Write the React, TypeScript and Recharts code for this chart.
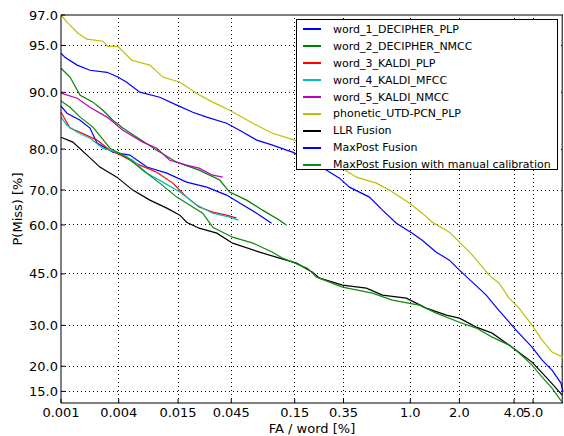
import { LineChart, Line, XAxis, YAxis, ReferenceLine } from 'recharts';

// DET curves: [FA per word %, P(Miss) %]
const word1DecipherPlp: [number, number][] = [
  [0.001, 87.98], [0.00116, 86.86], [0.0016, 85.66], [0.00203, 84.24], [0.0024, 81.27], [0.00349, 79.33],
  [0.00516, 78.67], [0.00758, 75.87], [0.01177, 74.37], [0.018, 72.09], [0.0274, 70.77], [0.041, 68.62],
  [0.0531, 66.38], [0.0739, 63.49], [0.098, 60.53],
];
const word2DecipherNmcc: [number, number][] = [
  [0.001, 92.9], [0.00125, 91.92], [0.0016, 89.6], [0.00218, 88.6], [0.00276, 87.34], [0.00349, 85.66],
  [0.0044, 84.24], [0.00605, 82.48], [0.00945, 79.76], [0.0146, 77.04], [0.0234, 75.12], [0.0357, 72.62],
  [0.0436, 69.44], [0.0609, 67.22], [0.0827, 64.37], [0.1137, 61.43], [0.1294, 59.93],
];
const word3KaldiPlp: [number, number][] = [
  [0.001, 87.02], [0.00125, 84.24], [0.0016, 83.46], [0.0024, 81.89], [0.00326, 79.76], [0.0044, 78.44],
  [0.00647, 76.33], [0.00945, 74.62], [0.0134, 71.83], [0.018, 68.06], [0.0234, 65.25], [0.031, 63.78],
  [0.041, 62.9], [0.05, 62.02],
];
const word4KaldiMfcc: [number, number][] = [
  [0.001, 86.2], [0.00116, 84.77], [0.00149, 83.46], [0.00203, 82.28], [0.00276, 80.19], [0.0041, 79.11],
  [0.00552, 77.5], [0.00758, 74.37], [0.0108, 72.09], [0.0156, 69.44], [0.0223, 65.82], [0.031, 63.49],
  [0.0436, 62.32], [0.052, 61.43],
];
const word5KaldiNmcc: [number, number][] = [
  [0.001, 89.88], [0.00149, 89.17], [0.00203, 87.82], [0.00304, 86.2], [0.0044, 83.85], [0.00692, 81.48],
  [0.00945, 80.19], [0.01255, 77.5], [0.018, 76.33], [0.0234, 75.62], [0.031, 73.87], [0.0379, 73.37],
];
const phoneticUtd: [number, number][] = [
  [0.001, 97.0], [0.00116, 96.6], [0.00152, 95.9], [0.00189, 95.48], [0.00276, 95.33], [0.00311, 94.93],
  [0.00392, 94.93], [0.0054, 93.7], [0.0081, 93.22], [0.0108, 91.92], [0.0156, 91.3], [0.0237, 89.6],
  [0.031, 88.6], [0.0436, 87.34], [0.0687, 85.13], [0.0999, 83.26], [0.1496, 81.89], [0.26, 78.0],
  [0.433, 73.37], [0.596, 71.83], [0.729, 69.97], [0.985, 66.38], [1.19, 63.49], [1.376, 60.83],
  [1.746, 57.84], [2.0, 54.78], [2.376, 50.77], [2.946, 44.61], [3.335, 42.16], [3.77, 37.69],
  [4.25, 34.78], [4.94, 30.05], [5.54, 26.15], [6.18, 23.22], [6.96, 22.05],
];
const llrFusion: [number, number][] = [
  [0.001, 82.48], [0.00134, 81.48], [0.00189, 78.67], [0.00257, 75.87], [0.00383, 73.37], [0.00552, 69.97],
  [0.0081, 67.22], [0.01177, 64.95], [0.0156, 62.9], [0.018, 60.83], [0.0234, 59.04], [0.0337, 57.53],
  [0.0462, 54.47], [0.0781, 51.7], [0.1137, 49.85], [0.155, 48.3], [0.206, 45.53], [0.233, 43.69],
  [0.344, 41.56], [0.508, 40.66], [0.655, 38.57], [0.942, 37.69], [1.262, 34.78], [1.674, 32.81],
  [2.0, 31.97], [2.5, 29.52], [3.06, 27.93], [3.91, 24.4], [4.94, 20.91], [5.79, 17.74], [6.46, 15.6],
  [6.9, 14.35],
];
const maxPostFusion: [number, number][] = [
  [0.001, 94.35], [0.0011, 93.98], [0.00149, 93.22], [0.00203, 92.68], [0.00304, 92.46], [0.00392, 91.92],
  [0.00481, 91.3], [0.00647, 90.02], [0.0101, 89.31], [0.0146, 88.14], [0.0205, 87.02], [0.0274, 86.2],
  [0.041, 85.13], [0.0531, 83.85], [0.0739, 81.89], [0.1, 80.84], [0.1294, 79.76], [0.1443, 79.33],
  [0.263, 75.12], [0.327, 73.12], [0.386, 70.77], [0.534, 68.06], [0.655, 64.37], [0.812, 60.53],
  [1.03, 57.53], [1.19, 55.39], [1.455, 51.7], [1.746, 49.23], [2.0, 46.14], [2.376, 42.47],
  [2.84, 38.57], [3.25, 34.78], [4.1, 28.73], [4.94, 24.4], [5.54, 21.35], [6.18, 19.19],
  [6.81, 16.56], [6.96, 14.89],
];
const maxPostManual: [number, number][] = [
  [0.001, 88.75], [0.00125, 87.82], [0.0016, 86.2], [0.00218, 84.42], [0.00326, 80.19], [0.00481, 78.2],
  [0.00692, 75.12], [0.0101, 71.83], [0.0146, 68.06], [0.0252, 63.49], [0.031, 59.34], [0.0462, 56.31],
  [0.0687, 54.47], [0.0999, 51.7], [0.1202, 49.85], [0.1443, 48.61], [0.1636, 47.69], [0.188, 46.76],
  [0.221, 44.0], [0.344, 40.96], [0.559, 39.17], [0.763, 37.1], [1.141, 35.65], [1.455, 33.37],
  [2.0, 30.85], [2.5, 29.26], [3.06, 26.9], [3.77, 24.9], [4.25, 22.99], [4.94, 20.26], [5.54, 17.74],
  [6.18, 15.6], [6.9, 13.1],
];

const X_TICKS = [0.001, 0.004, 0.015, 0.045, 0.15, 0.35, 1.0, 2.0, 4.0, 5.0];
const Y_TICKS = [15, 20, 30, 45, 60, 70, 80, 90, 95, 97];
const X_RANGE = [0.001, 6.9];
const Y_RANGE = [13, 97];

const SERIES = [
  { name: 'word_1_DECIPHER_PLP', data: word1DecipherPlp, color: '#0000ff' },
  { name: 'word_2_DECIPHER_NMCC', data: word2DecipherNmcc, color: '#008000' },
  { name: 'word_3_KALDI_PLP', data: word3KaldiPlp, color: '#ff0000' },
  { name: 'word_4_KALDI_MFCC', data: word4KaldiMfcc, color: '#00bfbf' },
  { name: 'word_5_KALDI_NMCC', data: word5KaldiNmcc, color: '#bf00bf' },
  { name: 'phonetic_UTD-PCN_PLP', data: phoneticUtd, color: '#bfbf00' },
  { name: 'LLR Fusion', data: llrFusion, color: '#000000' },
  { name: 'MaxPost Fusion', data: maxPostFusion, color: '#0000ff' },
  { name: 'MaxPost Fusion with manual calibration', data: maxPostManual, color: '#118a11' },
];

// inverse normal CDF (Acklam) -> normal deviate scale used by DET plots
function probit(p: number): number {
  const a = [-39.69683028665376, 220.9460984245205, -275.9285104469687, 138.357751867269, -30.66479806614716, 2.506628277459239];
  const b = [-54.47609879822406, 161.5858368580409, -155.6989798598866, 66.80131188771972, -13.28068155288572];
  const c = [-0.007784894002430293, -0.3223964580411365, -2.400758277161838, -2.549732539343734, 4.374664141464968, 2.938163982698783];
  const d = [0.007784695709041462, 0.3224671290700398, 2.445134137142996, 3.754408661907416];
  const plow = 0.02425;
  if (p < plow) {
    const q = Math.sqrt(-2 * Math.log(p));
    return (((((c[0] * q + c[1]) * q + c[2]) * q + c[3]) * q + c[4]) * q + c[5]) / ((((d[0] * q + d[1]) * q + d[2]) * q + d[3]) * q + 1);
  }
  if (p > 1 - plow) {
    const q = Math.sqrt(-2 * Math.log(1 - p));
    return -(((((c[0] * q + c[1]) * q + c[2]) * q + c[3]) * q + c[4]) * q + c[5]) / ((((d[0] * q + d[1]) * q + d[2]) * q + d[3]) * q + 1);
  }
  const q = p - 0.5;
  const r = q * q;
  return (((((a[0] * r + a[1]) * r + a[2]) * r + a[3]) * r + a[4]) * r + a[5]) * q / (((((b[0] * r + b[1]) * r + b[2]) * r + b[3]) * r + b[4]) * r + 1);
}

const dev = (pct: number) => probit(pct / 100);
const toDet = (pts: [number, number][]) => pts.map(([fa, pm]) => ({ x: dev(fa), y: dev(pm) }));

const xTickPos = X_TICKS.map(dev);
const yTickPos = Y_TICKS.map(dev);
const xDomain = X_RANGE.map(dev);
const yDomain = Y_RANGE.map(dev);

const fmtX = (v: number) => {
  const i = xTickPos.findIndex((t) => Math.abs(t - v) < 1e-6);
  if (i < 0) return '';
  const n = X_TICKS[i];
  return n >= 1 ? n.toFixed(1) : String(n);
};
const fmtY = (v: number) => {
  const i = yTickPos.findIndex((t) => Math.abs(t - v) < 1e-6);
  return i < 0 ? '' : Y_TICKS[i].toFixed(1);
};

const FONT = '"DejaVu Sans", sans-serif';
const tickStyle = { fontSize: 13, fill: '#000', fontFamily: FONT };
const GRID = { stroke: '#000', strokeWidth: 1, strokeDasharray: '1 3', shapeRendering: 'crispEdges' };

function DetLegend() {
  return (
    <div
      style={{
        position: 'absolute', left: 296, top: 19, width: 262, height: 151,
        border: '1px solid #000', background: '#fff', fontFamily: FONT, fontSize: 11,
        paddingTop: 1, boxSizing: 'border-box',
      }}
    >
      {SERIES.map((s) => (
        <div key={s.name} style={{ height: 16.9, display: 'flex', alignItems: 'center', whiteSpace: 'nowrap' }}>
          <div style={{ marginLeft: 6, width: 18, height: 2, background: s.color, flex: 'none' }} />
          <span style={{ marginLeft: 12, color: '#000' }}>{s.name}</span>
        </div>
      ))}
    </div>
  );
}

export default function App() {
  return (
    <div style={{ position: 'absolute', left: 0, top: 0, width: 564, height: 436, background: '#fff' }}>
      <LineChart width={564} height={436} margin={{ top: 15, right: 1, bottom: 0, left: 0 }}>
        <XAxis
          type="number" dataKey="x" domain={xDomain} ticks={xTickPos} interval={0}
          tickFormatter={fmtX} tick={tickStyle} tickSize={-4} tickMargin={9} height={33}
          stroke="#000" tickLine={{ stroke: '#000' }}
          label={{ value: 'FA / word [%]', position: 'insideBottom', offset: 3, style: { fontSize: 13, fill: '#000', fontFamily: FONT } }}
        />
        <YAxis
          type="number" dataKey="y" domain={yDomain} ticks={yTickPos} interval={0}
          tickFormatter={fmtY} tick={tickStyle} tickSize={-4} tickMargin={7} width={61}
          stroke="#000" tickLine={{ stroke: '#000' }}
          label={{ value: 'P(Miss) [%]', angle: -90, position: 'insideLeft', offset: 17, style: { fontSize: 13, fill: '#000', fontFamily: FONT, textAnchor: 'middle' } }}
        />
        {xTickPos.slice(1).map((t) => (
          <ReferenceLine key={`gx${t}`} x={t} {...GRID} />
        ))}
        {yTickPos.slice(0, -1).map((t) => (
          <ReferenceLine key={`gy${t}`} y={t} {...GRID} />
        ))}
        <ReferenceLine x={xDomain[1]} stroke="#000" strokeWidth={1} ifOverflow="visible" />
        <ReferenceLine y={yDomain[1]} stroke="#000" strokeWidth={1} ifOverflow="visible" />
        {SERIES.map((s) => (
          <Line
            key={s.name}
            data={toDet(s.data)}
            dataKey="y"
            type="linear"
            stroke={s.color}
            strokeWidth={1.2}
            dot={false}
            isAnimationActive={false}
          />
        ))}
      </LineChart>
      <DetLegend />
    </div>
  );
}
